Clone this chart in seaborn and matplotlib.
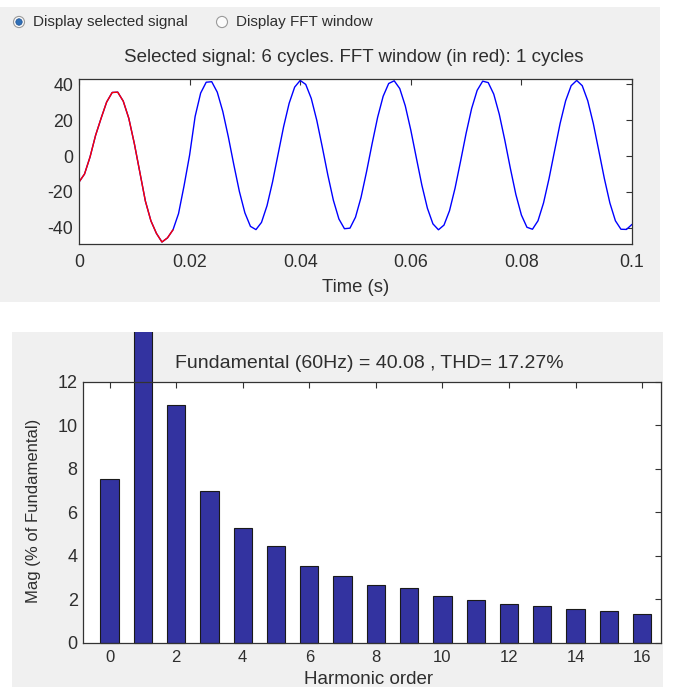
import matplotlib
matplotlib.use("Agg")
import matplotlib.pyplot as plt
from matplotlib.patches import Rectangle, Circle
import numpy as np
import pandas as pd
import seaborn as sns

time_ms = list(range(0, 101))
signal = [
    -14.5, -10.0, -0.5, 11.5, 21.0, 30.0, 35.3, 35.5, 30.5, 21.0,
    7.0, -9.0, -25.0, -36.0, -43.0, -47.8, -45.5, -41.0, -32.0, -16.5,
    0.5, 22.0, 35.0, 41.0, 41.3, 35.5, 24.8, 10.7, -4.9, -19.7,
    -31.6, -39.1, -40.9, -36.9, -27.6, -14.4, 1.0, 16.3, 29.3, 38.3,
    42.0, 39.8, 32.0, 19.8, 4.9, -10.6, -24.6, -35.0, -40.4, -40.1,
    -34.0, -23.0, -8.7, 6.8, 21.5, 33.2, 40.3, 41.8, 37.5, 27.9,
    14.4, -1.0, -16.2, -29.0, -37.7, -41.0, -38.4, -30.4, -17.9, -2.9,
    12.6, 26.4, 36.5, 41.6, 40.8, 34.4, 23.2, 8.8, -6.8, -21.4,
    -32.8, -39.6, -40.7, -36.0, -26.1, -12.5, 2.9, 18.1, 30.7, 39.1,
    42.0, 39.1, 30.7, 18.1, 2.9, -12.5, -26.1, -36.0, -40.7, -40.8,
    -38.0,
]
fft_window_end = 18  # first cycle (in red)

# harmonic spectrum (% of fundamental)
harmonic_order = list(range(0, 17))
magnitude = [7.55, 100.0, 10.95, 6.96, 5.28, 4.47, 3.53, 3.09, 2.67, 2.50,
             2.15, 1.98, 1.80, 1.69, 1.57, 1.46, 1.34]

fundamental_text = "Fundamental (60Hz) = 40.08 , THD= 17.27%"
signal_title = "Selected signal: 6 cycles. FFT window (in red): 1 cycles"

sns.set_style("white")
plt.rcParams["font.family"] = ["Liberation Sans", "DejaVu Sans"]
plt.rcParams["axes.unicode_minus"] = False
TXT = "#2e2e2e"
PANEL = "#f0f0f0"

fig = plt.figure(figsize=(6.77, 6.87), dpi=100)
W, H = 677.0, 687.0

def frect(x0, y0, x1, y1):
    # pixel box (top-left origin) -> figure fraction [l, b, w, h]
    return [x0 / W, 1 - y1 / H, (x1 - x0) / W, (y1 - y0) / H]

# gray gui panels
top_panel = Rectangle(frect(0, 7, 660, 302)[:2], 660 / W, 295 / H,
                      transform=fig.transFigure, facecolor=PANEL, edgecolor="none", zorder=0)
bot_panel = Rectangle(frect(12, 332, 663, 687)[:2], 651 / W, 355 / H,
                      transform=fig.transFigure, facecolor=PANEL, edgecolor="none", zorder=0)
fig.patches.extend([top_panel, bot_panel])

# radio buttons
for cx, label, selected in [(19, "Display selected signal", True), (222, "Display FFT window", False)]:
    c = Circle((cx / W, 1 - 22 / H), 5.5 / W, transform=fig.transFigure,
               facecolor="#fbfbfb", edgecolor="#9a9a9a", lw=0.8)
    fig.patches.append(c)
    if selected:
        fig.patches.append(Circle((cx / W, 1 - 22 / H), 3.2 / W, transform=fig.transFigure,
                                  facecolor="#2f6fb7", edgecolor="#1d4f8f", lw=0.5))
    fig.text((cx + 14) / W, 1 - 22 / H, label, fontsize=11, color=TXT, va="center", ha="left")

# ---- top: selected signal
ax1 = fig.add_axes(frect(79, 79, 632, 244))
df_sig = pd.DataFrame({"t": np.array(time_ms) / 1000.0, "v": signal})
sns.lineplot(data=df_sig, x="t", y="v", color="#0000ff", lw=1.0, ax=ax1)
sns.lineplot(data=df_sig.iloc[:fft_window_end], x="t", y="v", color="#ff0000", lw=1.0, ax=ax1)
ax1.set_xlim(0, 0.1)
ax1.set_ylim(-48.9, 42.8)
ax1.set_xticks([0, 0.02, 0.04, 0.06, 0.08, 0.1])
ax1.set_xticklabels(["0", "0.02", "0.04", "0.06", "0.08", "0.1"])
ax1.set_yticks([-40, -20, 0, 20, 40])
ax1.set_xlabel("Time (s)", fontsize=13.3, color=TXT, va="center")
ax1.xaxis.set_label_coords(0.5, (244 - 287) / 165)
ax1.set_ylabel("")
fig.text(354 / W, 1 - 57 / H, signal_title, fontsize=13.5, color=TXT, ha="center", va="center")

# ---- bottom: harmonic spectrum
ax2 = fig.add_axes(frect(83.3, 382, 660.7, 642.7))
df_fft = pd.DataFrame({"order": harmonic_order, "mag": magnitude})
sns.barplot(data=df_fft, x="order", y="mag", native_scale=True, color="#3333a0",
            saturation=1, width=0.55, edgecolor="#1a1a1a", linewidth=0.8, ax=ax2)
for p in ax2.patches:
    p.set_clip_path(bot_panel)
ax2.set_xlim(-0.79, 16.56)
ax2.set_ylim(0, 12)
ax2.set_xticks(range(0, 17, 2))
ax2.set_yticks(range(0, 13, 2))
ax2.set_xlabel("Harmonic order", fontsize=13.5, color=TXT, va="center")
ax2.xaxis.set_label_coords((369 - 83.3) / 577.4, (642.7 - 679) / 260.7)
ax2.set_ylabel("Mag (% of Fundamental)", fontsize=12, color=TXT, va="center", ha="center")
ax2.yaxis.set_label_coords((33.5 - 83.3) / 577.4, (642.7 - 511) / 260.7)
fig.text(369 / W, 1 - 363 / H, fundamental_text, fontsize=14, color=TXT, ha="center", va="center")

for ax, xsize, ysize, xpad in ((ax1, 12.8, 12.8, 7), (ax2, 12, 13, 5)):
    ax.set_facecolor("white")
    ax.tick_params(direction="in", top=True, right=True, length=4, width=0.8,
                   colors="#333333", labelcolor=TXT)
    ax.tick_params(axis="x", pad=xpad, labelsize=xsize)
    ax.tick_params(axis="y", pad=4, labelsize=ysize)
    for s in ax.spines.values():
        s.set_color("#333333")
        s.set_linewidth(0.9)
    ax.set_zorder(2)

fig.savefig("out.png", dpi=100)
